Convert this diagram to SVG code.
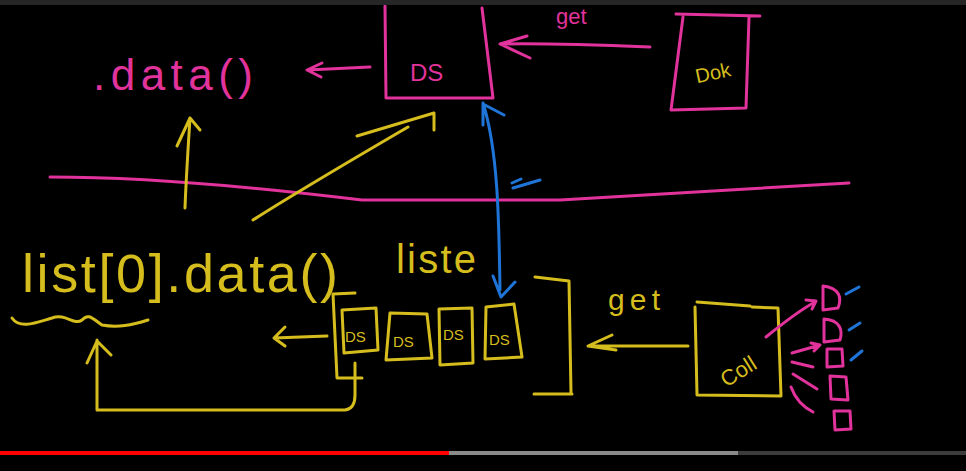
<svg xmlns="http://www.w3.org/2000/svg" width="966" height="471" viewBox="0 0 966 471">
<style>
.p{fill:none;stroke:#e1339b;stroke-width:3;stroke-linecap:round;stroke-linejoin:round}
.y{fill:none;stroke:#d6bd1e;stroke-width:3;stroke-linecap:round;stroke-linejoin:round}
.b{fill:none;stroke:#1f74d8;stroke-width:3;stroke-linecap:round;stroke-linejoin:round}
.tp{fill:#e1339b;font-family:"Liberation Sans",Arial,sans-serif}
.ty{fill:#d6bd1e;font-family:"Liberation Sans",Arial,sans-serif}
</style>
<rect width="966" height="471" fill="#000"/>

<g id="label-get-top"><text class="tp" x="556" y="24" font-size="22">get</text></g>

<g id="ds-top">
<path class="p" d="M385,6 L386,98 L493,98 L482,8"/>
<text class="tp" x="410" y="81" font-size="24">DS</text>
</g>

<g id="dok">
<path class="p" d="M676,14 L760,16 M683,17 L671,110 L746,108 L749,17"/>
<text class="ty" x="695" y="80" font-size="20" transform="rotate(-12 712 72)">Dok</text>
</g>

<g id="data-top">
<text class="tp" x="93" y="90" font-size="44" textLength="160" lengthAdjust="spacing">.data()</text>
</g>

<g id="divider"><path class="p" d="M50,177 C150,177 280,190 362,200 L560,200 L849,183"/></g>

<g id="list-expr">
<text class="ty" x="22" y="292" font-size="54" textLength="316" lengthAdjust="spacing">list[0].data()</text>
<path class="y" d="M12,318 C20,330 38,322 52,318 C66,313 74,326 82,320 C88,313 92,318 102,325 C118,328 132,325 148,320"/>
</g>

<g id="liste-label"><text class="ty" x="396" y="273" font-size="40" textLength="80" lengthAdjust="spacing">liste</text></g>

<g id="liste">
<path class="y" d="M355,293 L333,294 L337,378 L362,378"/>
<path class="y" d="M535,277 L569,281 L571,393 M534,394 L572,394"/>
</g>

<g id="ds1"><path class="y" d="M342,310 L376,308 L378,350 L344,353 Z"/><text class="ty" x="345" y="342" font-size="15">DS</text></g>
<g id="ds2"><path class="y" d="M390,313 L427,314 L432,358 L386,360 Z"/><text class="ty" x="393" y="347" font-size="15">DS</text></g>
<g id="ds3"><path class="y" d="M439,309 L472,308 L473,363 L440,365 Z"/><text class="ty" x="443" y="340" font-size="15">DS</text></g>
<g id="ds4"><path class="y" d="M486,307 L514,304 L522,357 L485,359 Z"/><text class="ty" x="489" y="345" font-size="15">DS</text></g>

<g id="label-get-bottom"><text class="ty" x="608" y="310" font-size="30" textLength="52" lengthAdjust="spacing">get</text></g>

<g id="coll">
<path class="y" d="M697,302 L750,306 M752,307 L778,308 L781,396 L697,395 L695,307"/>
<text class="ty" x="716" y="378" font-size="22" transform="rotate(-32 738 365)">Coll</text>
</g>

<g id="items">
<path class="p" d="M823,286 L823,310 L838,308 C842,298 840,288 823,286 Z"/>
<path class="p" d="M824,319 L824,342 L840,340 C843,330 840,320 824,319 Z"/>
<path class="p" d="M827,349 L827,367 L843,366 L842,349 Z"/>
<path class="p" d="M830,376 L831,399 L848,400 L846,377 Z"/>
<path class="p" d="M834,411 L835,430 L851,429 L850,411 Z"/>
</g>

<g id="connectors">
<path class="p" d="M370,67 L307,70 M322,63 L307,70 L321,77"/>
<path class="p" d="M650,47 C600,45 550,43 500,44 M527,36 L500,44 L530,58"/>
<path class="y" d="M185,208 C186,180 188,150 190,118 M177,146 L190,118 L200,130"/>
<path class="y" d="M253,220 C300,190 360,155 408,127 M357,136 L434,113 L434,130"/>
<path class="b" d="M500,290 C499,220 498,150 483,103 M483,125 L483,104 L504,115 M493,276 L501,297 L515,282 M512,183 L521,179 M513,188 L540,180"/>
<path class="y" d="M327,336 L274,338 M285,327 L274,338 L285,346"/>
<path class="y" d="M97,340 L97,410 L345,410 C353,409 355,402 355,395 L355,363 M87,363 L97,341 L111,355"/>
<path class="y" d="M688,346 L588,346 M612,335 L588,346 L616,350"/>
<path class="p" d="M766,337 C782,324 800,310 815,302 M806,300 L816,301 L812,309"/>
<path class="p" d="M792,353 L820,345 M811,343 L820,345 L814,351"/>
<path class="p" d="M792,362 L813,367"/>
<path class="p" d="M793,374 L817,389"/>
<path class="p" d="M791,387 C795,398 803,407 813,412"/>
<path class="b" d="M846,294 L859,287 M849,330 L860,323 M851,360 L862,351"/>
</g>

<rect x="0" y="0" width="966" height="5" fill="#262626"/>
<rect x="0" y="451" width="449" height="4" fill="#f00"/>
<rect x="449" y="451" width="289" height="4" fill="#8a8a8a"/>
<rect x="738" y="451" width="228" height="4" fill="#3c3c3c"/>
</svg>
